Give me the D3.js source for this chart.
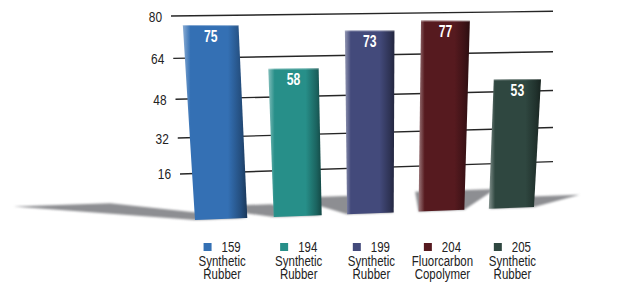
<!DOCTYPE html>
<html>
<head>
<meta charset="utf-8">
<script src="https://cdn.jsdelivr.net/npm/d3@7"></script>
<style>
  body { margin: 0; background: #fff; }
  text { font-family: "Liberation Sans", Arial, sans-serif; }
</style>
</head>
<body>
<svg id="chart"></svg>
<script>
var width = 620, height = 282;

// data
var compounds = ["159", "194", "199", "204", "205"];
var compoundTypes = ["Synthetic Rubber", "Synthetic Rubber", "Synthetic Rubber", "Fluorcarbon Copolymer", "Synthetic Rubber"];
var hardness = [75, 58, 73, 77, 53];
var barColors = ["#3470b4", "#278f89", "#434a7b", "#561a1f", "#2f4740"];
var yTicks = [16, 32, 48, 64, 80];

var narrow = 0.82; // condensed look, squeeze text horizontally

var svg = d3.select("#chart").attr("width", width).attr("height", height);
var defs = svg.append("defs");

function place(x, y, sx) {
  return "translate(" + x + "," + y + ") scale(" + (sx || narrow) + ",1)";
}

// ---- bar plane (tilted pseudo 3d) ----
var u = d3.scaleBand().domain(compounds).range([0, 1]).paddingInner(0.35);
var warp = d3.scalePow().exponent(0.95).domain([0, 1]).range([0, 1]);
var vBar = d3.scaleLinear().domain([0, 80]).range([0, 1]);
var corner = { bl: [195, 220], br: [534, 207], tl: [182, 12], tr: [544.6, 13.8] };

function barPt(uu, vv) {
  var a = warp(uu), b = vBar(vv);
  return [0, 1].map(function(k) {
    return (1 - a) * (1 - b) * corner.bl[k] + a * (1 - b) * corner.br[k] +
           (1 - a) * b * corner.tl[k] + a * b * corner.tr[k];
  });
}

// ---- grid plane ----
var gridT = d3.scalePow().exponent(1.15).domain([0, 80]).range([0, 1]);
var gridLeftX = d3.scaleLinear().domain([16, 80]).range([180, 171]);
var gridLeftY = d3.scaleLinear().domain([0, 1]).range([203.4, 16]);
var gridRightY = d3.scaleLinear().domain([0, 1]).range([189.7, 11.3]);
var gridRightX = 553;

var grid = svg.append("g");
grid.selectAll("line").data(yTicks).enter().append("line")
  .attr("x1", function(d) { return gridLeftX(d); })
  .attr("y1", function(d) { return gridLeftY(gridT(d)); })
  .attr("x2", gridRightX)
  .attr("y2", function(d) { return gridRightY(gridT(d)); })
  .attr("stroke", "#262626")
  .attr("stroke-width", 1.4);

grid.selectAll("text").data(yTicks).enter().append("text")
  .attr("transform", function(d) { return place(gridLeftX(d) - 9, gridLeftY(gridT(d)) + 5.5); })
  .attr("text-anchor", "end")
  .attr("font-size", 14.5)
  .attr("fill", "#222")
  .text(function(d) { return d; });

// ---- shadows ----
defs.append("filter").attr("id", "soft")
  .attr("x", "-20%").attr("y", "-50%").attr("width", "140%").attr("height", "200%")
  .append("feGaussianBlur").attr("stdDeviation", 1.3);

var light = [423, 237], lightH = 440;
function shadowTip(base, top) {
  var h = base[1] - top[1], f = h / (lightH - h);
  return [base[0] + (base[0] - light[0]) * f, base[1] + (base[1] - light[1]) * f];
}

var bars = compounds.map(function(c, i) {
  var x0 = u(c), x1 = u(c) + u.bandwidth();
  return {
    name: c, value: hardness[i], color: barColors[i], type: compoundTypes[i],
    bl: barPt(x0, 0), br: barPt(x1, 0), tr: barPt(x1, hardness[i]), tl: barPt(x0, hardness[i])
  };
});

svg.append("g").attr("filter", "url(#soft)")
  .selectAll("path").data(bars).enter().append("path")
  .attr("d", function(d) {
    var pts = [d.bl, shadowTip(d.bl, d.tl), shadowTip(d.br, d.tr), d.br];
    return "M" + d3.polygonHull(pts).join("L") + "Z";
  })
  .attr("fill", "#8d8e92");

// ---- bars ----
bars.forEach(function(d, i) {
  var g = defs.append("linearGradient").attr("id", "grad" + i)
    .attr("x1", 0).attr("x2", 1).attr("y1", 0).attr("y2", 0);
  var stops = [
    [0, d3.interpolateRgb(d.color, "#fff")(0.42)],
    [0.12, d.color],
    [0.7, d.color],
    [0.9, d3.interpolateRgb(d.color, "#000")(0.3)],
    [1, d3.interpolateRgb(d.color, "#000")(0.5)]
  ];
  g.selectAll("stop").data(stops).enter().append("stop")
    .attr("offset", function(s) { return s[0]; })
    .attr("stop-color", function(s) { return s[1]; });
});

var barG = svg.append("g");
barG.selectAll("path.bar").data(bars).enter().append("path")
  .attr("class", "bar")
  .attr("d", function(d) { return "M" + [d.bl, d.br, d.tr, d.tl].join("L") + "Z"; })
  .attr("fill", function(d, i) { return "url(#grad" + i + ")"; });

barG.selectAll("line.top").data(bars).enter().append("line")
  .attr("class", "top")
  .attr("x1", function(d) { return d.tl[0]; }).attr("y1", function(d) { return d.tl[1] + 0.5; })
  .attr("x2", function(d) { return d.tr[0]; }).attr("y2", function(d) { return d.tr[1] + 0.5; })
  .attr("stroke", "rgba(255,255,255,0.35)").attr("stroke-width", 1);

barG.selectAll("text").data(bars).enter().append("text")
  .attr("transform", function(d) {
    return place((d.tl[0] + d.tr[0]) / 2, (d.tl[1] + d.tr[1]) / 2 + 16.5, 0.76);
  })
  .attr("text-anchor", "middle")
  .attr("font-size", 16)
  .attr("font-weight", "bold")
  .attr("fill", "#fff")
  .text(function(d) { return d.value; });

// ---- legend, one item centred under each bar ----
var legend = svg.append("g").selectAll("g").data(bars).enter().append("g")
  .attr("transform", function(d) { return "translate(" + ((d.bl[0] + d.br[0]) / 2 + 1) + ",0)"; });

legend.each(function(d) {
  var item = d3.select(this);
  var num = item.append("text").attr("font-size", 14).attr("fill", "#222").text(d.name);
  var w = num.node().getComputedTextLength() * narrow;
  var total = 8 + 10 + w;
  item.append("rect").attr("x", -total / 2).attr("y", 243).attr("width", 8).attr("height", 8).attr("fill", d.color);
  num.attr("transform", place(-total / 2 + 18, 252));
  item.selectAll("text.type").data(d.type.split(" ")).enter().append("text")
    .attr("class", "type")
    .attr("transform", function(t, k) { return place(0, 265.5 + k * 13.5); })
    .attr("text-anchor", "middle")
    .attr("font-size", 14)
    .attr("fill", "#222")
    .text(function(t) { return t; });
});
</script>
</body>
</html>
